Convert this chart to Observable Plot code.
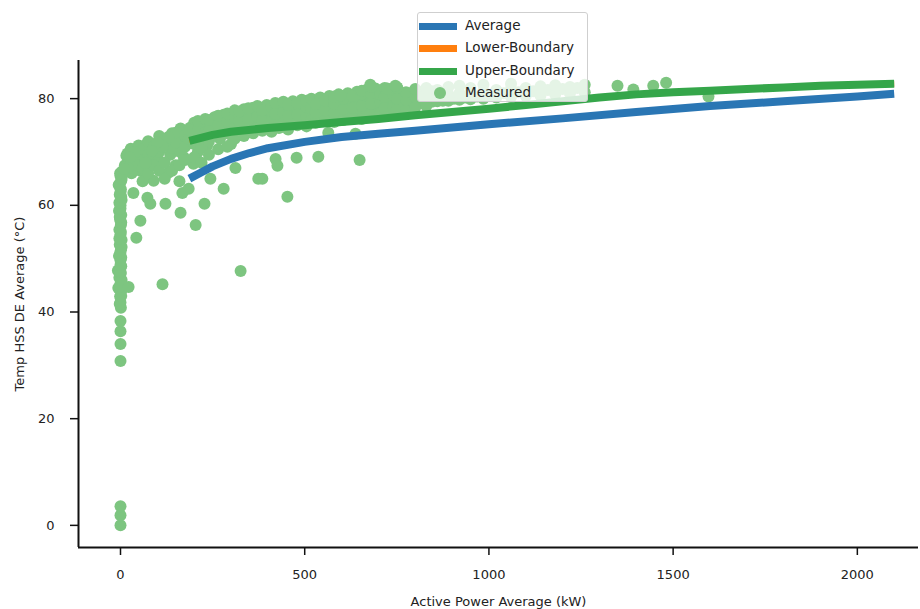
<!DOCTYPE html>
<html>
<head>
<meta charset="utf-8">
<script src="https://cdn.jsdelivr.net/npm/d3@7"></script>
<script src="https://cdn.jsdelivr.net/npm/@observablehq/plot@0.6"></script>
<style>
  html, body { margin: 0; padding: 0; background: #fff; }
  #wrap { position: relative; width: 920px; height: 609px; font-family: "DejaVu Sans", sans-serif; }
  #legend { position: absolute; left: 417px; top: 12px; width: 171px; height: 90px;
    background: rgba(255,255,255,0.8); border: 1px solid #cfcfcf; border-radius: 3px; box-sizing: border-box; }
  .row { position: absolute; left: 0; height: 20px; font-size: 13.5px; color: #222; }
  .row .lab { position: absolute; left: 47px; top: 1px; white-space: nowrap; }
  .row .ln { position: absolute; left: 1px; top: 7px; width: 38px; height: 7px; }
  .row .dt { position: absolute; left: 16px; top: 4px; width: 12px; height: 12px; border-radius: 6px; }
</style>
</head>
<body>
<div id="wrap"><div id="chart"></div><div id="legend"></div></div>
<script>
// ---- data ----
const xTicks = [0, 500, 1000, 1500, 2000];
const yTicks = [0, 20, 40, 60, 80];
const xLabel = "Active Power Average (kW)";
const yLabel = "Temp HSS DE Average (°C)";
const seriesNames = ["Average", "Lower-Boundary", "Upper-Boundary", "Measured"];
const seriesColors = ["#2a76b4", "#ff7f0e", "#35a64a", "#7dc580"];

const averagePower = [187, 220, 250, 300, 350, 400, 500, 600, 700, 800, 1000, 1200, 1400, 1600, 1800, 2000, 2100];
const averageTemp  = [65.0, 66.2, 67.3, 68.7, 69.8, 70.7, 71.9, 72.8, 73.4, 74.0, 75.2, 76.3, 77.5, 78.6, 79.5, 80.4, 80.9];

const upperPower = [187, 250, 300, 400, 500, 600, 700, 800, 900, 1000, 1100, 1200, 1300, 1400, 1500, 1600, 1700, 1800, 1900, 2000, 2100];
const upperTemp  = [72.1, 73.2, 73.8, 74.5, 75.0, 75.6, 76.2, 76.9, 77.5, 78.1, 78.8, 79.5, 80.2, 80.8, 81.2, 81.5, 81.8, 82.1, 82.4, 82.6, 82.8];

const lowerPower = [187, 250, 300, 400, 500, 600, 700, 800, 900, 1000, 1100, 1200, 1300, 1400, 1500, 1600, 1700, 1800, 1900, 2000, 2100];
const lowerTemp  = [72.1, 73.2, 73.8, 74.5, 75.0, 75.6, 76.2, 76.9, 77.5, 78.1, 78.8, 79.5, 80.2, 80.8, 81.2, 81.5, 81.8, 82.1, 82.4, 82.6, 82.8];

// measured points [power kW, temp °C]
const measured = [
  [0,0],[0,1.9],[0,3.6],[0,30.8],[0,34],[0,36.4],[0,38.3],
  [1,40.8],[0,41.8],[-1,42.9],[2,44],[-6,44.5],[0,45.3],[-3,46.4],[1,47.3],[-7,47.8],[2,48.6],[0,49.7],
  [-4,50.5],[1,51.6],[-2,52.6],[3,53.5],[0,54.5],[-3,55.4],[1,56.3],[-1,57.3],[2,58.2],[-4,59],[0,60],
  [3,61],[-2,62],[1,63],[-5,63.8],[2,64.6],[0,65.5],[4,66.3],
  [-2,41.5],[2,43],[-1,44.8],[3,46],[-2,47.6],[0,48.8],[2,50.2],[-1,51],[3,52.2],[-3,53.8],[1,55],[2,56.8],
  [-2,57.8],[0,59.4],[-3,60.5],[2,61.6],[0,62.5],[-2,64],[3,65],[-1,66],
  [22,44.7],[114,45.2],[326,47.7],
  [12,67.5],[16,69.3],[19,69.7],[28,70.6],[35,62.3],[43,53.9],[54,57.1],[49,71.2],[54,66.5],[62,69.5],
  [70,71.4],[73,61.4],[81,60.3],[81,68.9],[90,64.6],[95,70.5],[103,68.4],[110,72.3],[122,60.3],[130,66.1],
  [135,69.5],[141,72.1],[150,67.5],[155,70.2],[163,58.6],[163,74.4],[168,62.3],[172,69],[180,71.5],[185,63.1],
  [190,74.6],[195,72.5],[198,67.8],[204,56.3],[210,70],[215,73],[225,74.9],[228,60.3],[235,71.2],[244,65],
  [250,73.5],[260,75.5],[270,72.5],[280,63.1],[285,76],[295,74],[300,71.5],[312,67],
  [30,68],[30,66],[45,69],[45,67.5],[60,67],[60,70.5],[60,64.5],[75,66],[75,69.5],[75,72],[90,67.5],[90,71],
  [105,66.5],[105,70],[105,73],[120,68],[120,71.5],[120,65],[140,66.5],[140,70.8],[140,73.5],[160,67.5],[160,72.5],[160,64.5],
  [150,71.8],[150,73.6],[130,72.8],[115,71],[100,71.8],[85,70.2],[68,68],[40,70],[25,69],[20,67],[10,66.8],
  [175,68.5],[175,71],[175,73],[200,69],[200,71.5],[200,73.8],[200,75.5],[220,68],[220,70.8],[220,72.5],[220,75.2],
  [185,72.5],[185,74.2],[210,74],[210,75.8],[230,73.6],[230,76.2],[255,74.6],[255,76.5],[280,74.8],[280,77],
  [240,69.5],[240,72],[240,74],[240,76],[265,70.5],[265,73],[265,75],[265,76.8],[290,71],[290,73.5],[290,75.8],[290,77.2],
  [310,72.5],[310,74.5],[310,76.5],[310,77.8],[335,73],[335,75],[335,77],[335,78],[360,73.5],[360,75.5],[360,77.3],[360,78.3],
  [322,73.8],[322,75.8],[322,77.6],[347,74.2],[347,76.2],[347,78.2],[372,74.6],[372,76.6],[372,78.6],[397,74.8],[397,76.8],[397,78.8],
  [385,74],[385,76],[385,77.8],[385,65],[410,73.8],[410,75.8],[410,77.5],[410,78.5],[430,74.5],[430,76.3],[430,78.2],
  [420,75.2],[420,77.2],[420,79.2],[442,75.4],[442,77.5],[442,79.4],[468,75.6],[468,77.8],[468,79.5],[492,75.8],[492,78],[492,79.8],
  [455,74.2],[455,76.8],[455,78.8],[480,75],[480,77],[480,79.2],[505,74.8],[505,76.6],[505,78.4],[505,79.6],
  [518,76],[518,78.2],[518,80],[542,76.4],[542,78.4],[542,80.2],[567,76.6],[567,78.7],[567,80.5],[592,76.8],[592,78.9],[592,80.8],
  [530,75.5],[530,77.4],[530,79],[555,75.8],[555,77.8],[555,79.6],[580,75.6],[580,77.3],[580,79.1],[580,80.4],
  [617,77],[617,79.2],[617,81],[642,77.3],[642,79.5],[642,81.3],[667,77.6],[667,79.8],[667,81.6],[692,78],[692,80.1],[692,81.9],
  [605,76],[605,78],[605,80],[630,76.4],[630,78.3],[630,80.5],[655,76.2],[655,78.6],[655,80.8],[655,81.5],
  [680,77],[680,79],[680,81],[680,82.2],[705,77.2],[705,79.3],[705,80.8],[730,77.5],[730,79.5],[730,81.6],
  [717,78.2],[717,80.3],[717,82],[740,78.4],[740,80.6],[762,78.6],[762,80.8],[787,78.8],[787,81],[815,79.2],[815,81.2],[845,79.4],[845,81.4],
  [750,78],[750,80],[750,82.1],[775,77.8],[775,79.8],[775,81.2],[800,78.4],[800,80.3],[800,81.8],
  [830,78.6],[830,80.6],[830,82],[860,79.5],[860,80.4],[860,81.6],[890,79.6],[890,80.8],[890,82.2],
  [875,79.6],[905,80],[935,80.2],[968,80.4],[1000,80.6],[1040,81],[1080,81.2],[1120,81.4],[1160,81.6],[1200,81.8],[1240,82],
  [920,79.8],[920,81],[920,82.4],[950,79.9],[950,81.2],[950,82],[985,80],[985,81.4],[985,82.6],
  [1020,80.2],[1020,81.6],[1060,80.3],[1060,81.8],[1060,82.8],[1100,80.5],[1100,82],[1140,80.6],[1140,82.3],
  [1180,80.8],[1180,82.5],[1220,81],[1220,82.2],[1260,81.2],[1260,82.6],
  [421,68.7],[478,68.9],[537,69.1],[649,68.5],[453,61.6],[426,67.4],[564,73.6],[638,73.4],[374,65],
  [724,81.9],[751,82.1],[678,82.6],[746,82.4],[597,80.6],
  [1349,82.4],[1392,81.7],[1446,82.4],[1481,83],[1596,80.4]
];

// ---- chart ----
const xDomain = [-114, 2166];
const yDomain = [-4.15, 87.15];
const toRows = (px, ty) => px.map((p, i) => ({p, t: ty[i]}));

const chart = Plot.plot({
  width: 920,
  height: 609,
  marginLeft: 78,
  marginRight: 2,
  marginTop: 60,
  marginBottom: 62,
  style: {fontFamily: "DejaVu Sans, sans-serif", fontSize: "13px", color: "#222", background: "white", overflow: "visible"},
  x: {domain: xDomain},
  y: {domain: yDomain},
  marks: [
    Plot.dot(measured, {x: d => d[0], y: d => d[1], r: 6, fill: seriesColors[3]}),
    Plot.line(toRows(averagePower, averageTemp), {x: "p", y: "t", stroke: seriesColors[0], strokeWidth: 8, strokeLinecap: "butt", strokeLinejoin: "round"}),
    Plot.line(toRows(lowerPower, lowerTemp), {x: "p", y: "t", stroke: seriesColors[1], strokeWidth: 6, strokeLinecap: "butt", strokeLinejoin: "round"}),
    Plot.line(toRows(upperPower, upperTemp), {x: "p", y: "t", stroke: seriesColors[2], strokeWidth: 8, strokeLinecap: "butt", strokeLinejoin: "round"}),
    Plot.ruleX([xDomain[0]], {stroke: "#111", strokeWidth: 2}),
    Plot.ruleY([yDomain[0]], {stroke: "#111", strokeWidth: 2}),
    Plot.axisX({ticks: xTicks, tickFormat: d3.format("d"), tickSize: 8, tickPadding: 14, strokeWidth: 1.5, stroke: "#111",
      label: xLabel, labelAnchor: "center", labelArrow: false, labelOffset: 58}),
    Plot.axisY({ticks: yTicks, tickFormat: d3.format("d"), tickSize: 8, tickPadding: 16, strokeWidth: 1.5, stroke: "#111",
      label: yLabel, labelAnchor: "center", labelArrow: false, labelOffset: 64})
  ]
});
document.getElementById("chart").appendChild(chart);

// ---- legend ----
const legend = document.getElementById("legend");
seriesNames.forEach((name, i) => {
  const row = document.createElement("div");
  row.className = "row";
  row.style.top = (3 + i * 22.4) + "px";
  row.style.width = "100%";
  const sw = document.createElement("div");
  sw.className = i < 3 ? "ln" : "dt";
  sw.style.background = seriesColors[i];
  const lab = document.createElement("span");
  lab.className = "lab";
  lab.textContent = name;
  row.appendChild(sw);
  row.appendChild(lab);
  legend.appendChild(row);
});
</script>
</body>
</html>
